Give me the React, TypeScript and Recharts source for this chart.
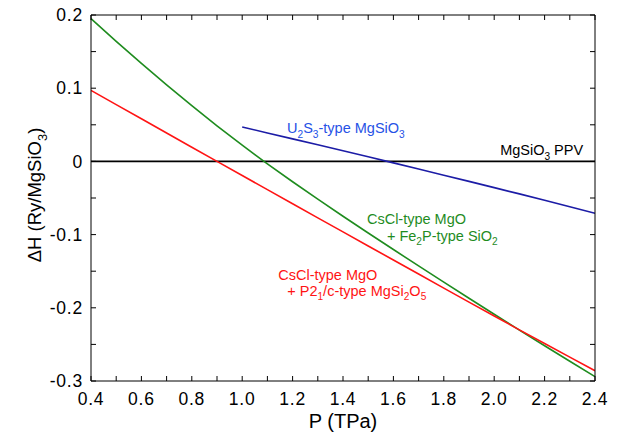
import { Line, LineChart, ReferenceDot, ReferenceLine, XAxis, YAxis } from "recharts";

// pressure grid (TPa)
const pressures = [0.4, 0.5, 0.6, 0.7, 0.8, 0.9, 1.0, 1.1, 1.2, 1.3, 1.4, 1.5, 1.6, 1.7, 1.8, 1.9, 2.0, 2.1, 2.2, 2.3, 2.4];

// enthalpy differences relative to MgSiO3 PPV (Ry/MgSiO3)
const fe2pSeries = [0.195, 0.164, 0.1338, 0.1045, 0.0761, 0.0486, 0.0221, -0.0033, -0.0278, -0.0516, -0.0749, -0.0978, -0.1204, -0.1428, -0.165, -0.187, -0.2088, -0.2304, -0.2518, -0.273, -0.294];
const p21cSeries = [0.097, 0.0776, 0.0582, 0.0388, 0.0194, 0.0, -0.0193, -0.0386, -0.0579, -0.0771, -0.0963, -0.1155, -0.1347, -0.1539, -0.1731, -0.1922, -0.2113, -0.2301, -0.2487, -0.2674, -0.286];
const u2s3Series = [null, null, null, null, null, null, 0.047, 0.0389, 0.0308, 0.0227, 0.0145, 0.0063, -0.002, -0.0104, -0.0188, -0.0273, -0.0358, -0.0444, -0.0531, -0.0619, -0.0708];

const xTicks = [0.4, 0.5, 0.6, 0.7, 0.8, 0.9, 1.0, 1.1, 1.2, 1.3, 1.4, 1.5, 1.6, 1.7, 1.8, 1.9, 2.0, 2.1, 2.2, 2.3, 2.4];
const yTicks = [-0.3, -0.25, -0.2, -0.15, -0.1, -0.05, 0, 0.05, 0.1, 0.15, 0.2];

const annotations = [
  { p: 1.178, h: 0.0384, lines: ["U_2S_3-type MgSiO_3"], color: "#2652e6", anchor: "start", indent: 0, gap: 17 },
  { p: 2.353, h: 0.0082, lines: ["MgSiO_3 PPV"], color: "#000000", anchor: "end", indent: 0, gap: 17 },
  { p: 1.495, h: -0.0849, lines: ["CsCl-type MgO", "+ Fe_2P-type SiO_2"], color: "#1f8c1f", anchor: "start", indent: 20, gap: 17 },
  { p: 1.143, h: -0.1616, lines: ["CsCl-type MgO", "+ P2_1/c-type MgSi_2O_5"], color: "#ff1414", anchor: "start", indent: 9, gap: 16 },
];

const data = pressures.map((p, i) => ({ p, fe2p: fe2pSeries[i], p21c: p21cSeries[i], u2s3: u2s3Series[i] }));

const X_MIN = 0.4, X_MAX = 2.4, Y_MIN = -0.3, Y_MAX = 0.2;

// chart layout
const W = 620, H = 439;
const M = { top: 15, right: 25, bottom: 0, left: 0 };
const Y_AXIS_W = 91, X_AXIS_H = 58;
const PLOT = { left: Y_AXIS_W, top: M.top, right: W - M.right, bottom: H - X_AXIS_H };
const TICK = 5;

const FONT = "Arial, 'Liberation Sans', Helvetica, sans-serif";

// "_" marks the next character as a subscript
function parse(text: string) {
  const parts: { t: string; sub: boolean }[] = [];
  let buf = "";
  for (let i = 0; i < text.length; i++) {
    if (text[i] === "_") {
      if (buf) parts.push({ t: buf, sub: false });
      buf = "";
      parts.push({ t: text[i + 1], sub: true });
      i++;
    } else buf += text[i];
  }
  if (buf) parts.push({ t: buf, sub: false });
  return parts;
}

function Rich({ text, size }: { text: string; size: number }) {
  const shift = size * 0.3;
  let down = false;
  return (
    <>
      {parse(text).map((s, k) => {
        let dy = 0;
        if (s.sub && !down) { dy = shift; down = true; }
        else if (!s.sub && down) { dy = -shift; down = false; }
        return (
          <tspan key={k} dy={dy} fontSize={s.sub ? size * 0.7 : size}>{s.t}</tspan>
        );
      })}
    </>
  );
}

function AnnLabel(props: any) {
  const { viewBox, a } = props;
  const cx = viewBox.x + viewBox.width / 2;
  const cy = viewBox.y + viewBox.height / 2;
  return (
    <g>
      {a.lines.map((ln: string, i: number) => (
        <text key={i} x={cx + (i > 0 ? a.indent : 0)} y={cy + i * a.gap} textAnchor={a.anchor} fill={a.color} fontFamily={FONT} fontSize={14.5}>
          <Rich text={ln} size={14.5} />
        </text>
      ))}
    </g>
  );
}

function YTitle(props: any) {
  const { viewBox } = props;
  const x = viewBox.x + 41;
  const y = viewBox.y + viewBox.height / 2 - 3;
  return (
    <text x={x} y={y} transform={`rotate(-90 ${x} ${y})`} textAnchor="middle" fontFamily={FONT} fontSize={18.5} fill="#000">
      <Rich text="ΔH (Ry/MgSiO_3)" size={18.5} />
    </text>
  );
}

function XTitle(props: any) {
  const { viewBox } = props;
  return (
    <text x={viewBox.x + viewBox.width / 2} y={viewBox.y + 47} textAnchor="middle" fontFamily={FONT} fontSize={20} fill="#000">
      P (TPa)
    </text>
  );
}

// top and right edges of the frame with inward ticks, laid over the chart
function Frame() {
  const px = (v: number) => PLOT.left + ((v - X_MIN) / (X_MAX - X_MIN)) * (PLOT.right - PLOT.left);
  const py = (v: number) => PLOT.top + ((Y_MAX - v) / (Y_MAX - Y_MIN)) * (PLOT.bottom - PLOT.top);
  return (
    <svg width={W} height={H} style={{ position: "absolute", left: 0, top: 0, pointerEvents: "none" }}>
      <g stroke="#000" strokeWidth={1} fill="none">
        <line x1={PLOT.left} y1={PLOT.top} x2={PLOT.right} y2={PLOT.top} />
        <line x1={PLOT.right} y1={PLOT.top} x2={PLOT.right} y2={PLOT.bottom} />
        {xTicks.map((t) => (
          <line key={`x${t}`} x1={px(t)} y1={PLOT.top} x2={px(t)} y2={PLOT.top + TICK} />
        ))}
        {yTicks.map((t) => (
          <line key={`y${t}`} x1={PLOT.right} y1={py(t)} x2={PLOT.right - TICK} y2={py(t)} />
        ))}
      </g>
    </svg>
  );
}

const fmtX = (v: number) => (Math.round(v * 10) % 2 === 0 ? v.toFixed(1) : "");
const fmtY = (v: number) => {
  const r = Math.round(v * 100);
  if (r % 10 !== 0) return "";
  return r === 0 ? "0" : v.toFixed(1);
};

const axisStyle = { stroke: "#000", strokeWidth: 1 };
const tickStyle = { fill: "#000", fontSize: 17.5, fontFamily: FONT, letterSpacing: 0.8 };

export default function App() {
  return (
    <div style={{ position: "absolute", left: 0, top: 0, width: W, height: H, background: "#fff" }}>
      <LineChart width={W} height={H} data={data} margin={M}>
        <XAxis dataKey="p" type="number" domain={[X_MIN, X_MAX]} ticks={xTicks} interval={0} tickFormatter={fmtX}
          axisLine={axisStyle} tickLine={axisStyle} tick={tickStyle} tickSize={-TICK} tickMargin={17} height={X_AXIS_H}
          label={<XTitle />} allowDataOverflow />
        <YAxis type="number" domain={[Y_MIN, Y_MAX]} ticks={yTicks} interval={0} tickFormatter={fmtY}
          axisLine={axisStyle} tickLine={axisStyle} tick={tickStyle} tickSize={-TICK} tickMargin={13} width={Y_AXIS_W}
          label={<YTitle />} allowDataOverflow />
        <ReferenceLine y={0} stroke="#000" strokeWidth={1.6} />
        <Line dataKey="u2s3" stroke="#1c1ca6" strokeWidth={1.6} dot={false} isAnimationActive={false} />
        <Line dataKey="fe2p" stroke="#1f8c1f" strokeWidth={1.6} dot={false} isAnimationActive={false} />
        <Line dataKey="p21c" stroke="#ff1414" strokeWidth={1.6} dot={false} isAnimationActive={false} />
        {annotations.map((a, i) => (
          <ReferenceDot key={i} x={a.p} y={a.h} r={0} fill="none" stroke="none" label={<AnnLabel a={a} />} />
        ))}
      </LineChart>
      <Frame />
    </div>
  );
}
